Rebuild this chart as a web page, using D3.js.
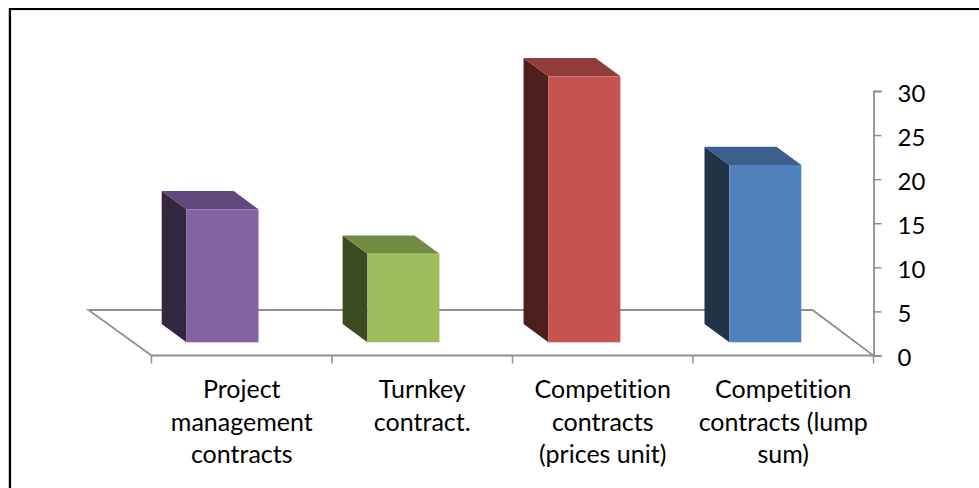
<!DOCTYPE html>
<html><head><meta charset="utf-8">
<script src="https://cdn.jsdelivr.net/npm/d3@7"></script>
<style>html,body{margin:0;padding:0;background:#fff}svg{display:block}text{font-family:Lato,"Open Sans",sans-serif;fill:#000;font-variant-ligatures:none}</style>
</head><body><svg id="c" width="979" height="488"></svg>
<script>
const categories = [["Project","management","contracts"],["Turnkey","contract."],["Competition","contracts","(prices unit)"],["Competition","contracts (lump","sum)"]];
const values = [15,10,30,20];
const frontColors = ["#8364a2","#9fbd5c","#c6534f","#4f81bd"];
const sideColors = ["#33283f","#3d4b20","#4f1f1e","#1f3349"];
const topColors = ["#604a7b","#738c43","#933d3b","#3b5f8d"];
const yTicks = [0,5,10,15,20,25,30];

const svg = d3.select("#c");
const x = d3.scaleBand().domain(d3.range(values.length)).range([151.5,873.5]);
const barX = d3.scaleLinear().domain([0,3]).range([186.5,729.3]);
const y = d3.scaleLinear().domain([0,30]).range([355.5,91]);
const barY = d3.scaleLinear().domain([0,30]).range([342.3,76.3]);
const dx = 24.8, dy = 18.2, barW = 72, floorBack = 310;
const grey = "#8f8f8f";

// page frame
svg.append("path").attr("d","M8.5 488V8").attr("stroke","#c8c8c8").attr("fill","none");
svg.append("path").attr("d","M11.5 488V10.5H979").attr("stroke","#e2e2e2").attr("fill","none");
svg.append("path").attr("d","M10 488V9H979").attr("stroke","#000").attr("stroke-width",2).attr("fill","none");

// floor
const x0 = x.range()[0], x1 = x.range()[1], yb = y(0);
svg.append("path").attr("fill","none").attr("stroke",grey).attr("stroke-width",1.8)
  .attr("d",`M${x0} ${yb}L${x0-63} ${floorBack}H${x1-61}L${x1} ${yb}Z`);

// category ticks
svg.append("g").selectAll("line").data(d3.range(values.length+1)).join("line")
  .attr("x1",i=>i<values.length?x(i):x1).attr("x2",i=>i<values.length?x(i):x1)
  .attr("y1",yb).attr("y2",yb+8).attr("stroke",grey).attr("stroke-width",1.5);

// value axis
const ya = svg.append("g").attr("transform",`translate(${x1},0)`).call(d3.axisRight(y).tickValues(yTicks).tickSize(8).tickPadding(16));
ya.select(".domain").attr("stroke",grey).attr("stroke-width",1.8);
ya.selectAll(".tick line").attr("stroke",grey).attr("stroke-width",1.5);
ya.selectAll("text").attr("font-size",24).attr("font-family",'Lato,"Open Sans",sans-serif').attr("fill","#000").attr("dy","0.42em");

// bars
const bars = svg.append("g").selectAll("g").data(values).join("g");
bars.append("path").attr("fill",(d,i)=>sideColors[i])
  .attr("d",(d,i)=>`M${barX(i)} ${barY(d)}l${-dx} ${-dy}V${barY(0)-dy}l${dx} ${dy}Z`);
bars.append("path").attr("fill",(d,i)=>topColors[i])
  .attr("d",(d,i)=>`M${barX(i)} ${barY(d)}l${-dx} ${-dy}h${barW}l${dx} ${dy}Z`);
bars.append("rect").attr("fill",(d,i)=>frontColors[i])
  .attr("x",(d,i)=>barX(i)).attr("y",d=>barY(d)).attr("width",barW).attr("height",d=>barY(0)-barY(d));

// category labels
const lab = svg.append("g").selectAll("text").data(categories).join("text")
  .attr("text-anchor","middle").attr("font-size",25);
lab.selectAll("tspan").data((d,i)=>d.map(t=>({t,i}))).join("tspan")
  .attr("x",d=>x(d.i)+x.bandwidth()/2).attr("y",(d,j)=>398+j*32.5).text(d=>d.t);
</script></body></html>
